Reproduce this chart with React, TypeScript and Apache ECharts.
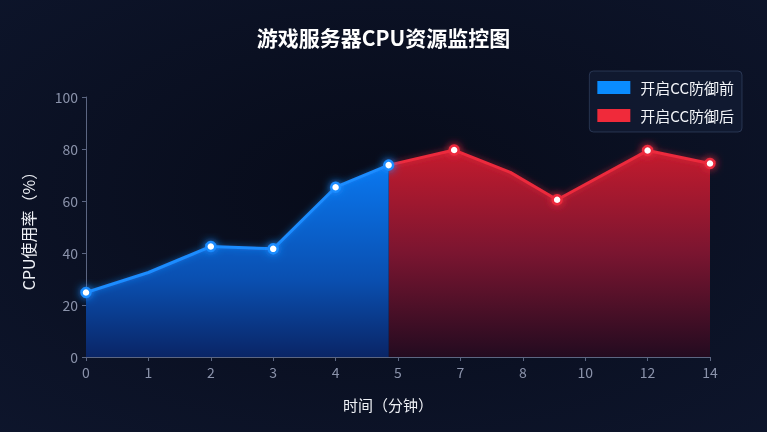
import React, { useEffect, useRef } from "react";
import * as echarts from "echarts";

const timeLabels = ["0", "1", "2", "3", "4", "5", "7", "8", "10", "12", "14"];
const yTickMax = 100;
const yTickStep = 20;

// positions are in category-index units (0..10) of the time axis
const beforeX = [0, 1, 2, 3, 4, 4.85];
const beforeY = [24.8, 32.5, 42.5, 41.6, 65.3, 73.8];
const beforeMarker = [true, false, true, true, true, true];

const afterX = [4.85, 5.9, 6.8, 7.55, 9, 10];
const afterY = [73.8, 79.6, 71, 60.5, 79.4, 74.4];
const afterMarker = [false, true, false, true, true, true];

const seriesNames = ["开启CC防御前", "开启CC防御后"];
const titleText = "游戏服务器CPU资源监控图";

const FONT = "'Noto Sans CJK SC', 'Noto Sans', sans-serif";

function buildData(xs: number[], ys: number[], marks: boolean[]) {
  return xs.map((x, i) => ({
    value: [x, ys[i]],
    symbol: marks[i] ? "circle" : "none",
  }));
}

export default function App() {
  const ref = useRef<HTMLDivElement>(null);
  useEffect(() => {
    document.body.style.margin = "0";
    const chart = echarts.init(ref.current!, undefined, { renderer: "svg" });
    const blue = "#1a8cff";
    const red = "#ec2a3c";
    chart.setOption({
      animation: false,
      backgroundColor: new echarts.graphic.RadialGradient(0.5, 0.45, 0.8, [
        { offset: 0, color: "#070b19" },
        { offset: 1, color: "#0e162d" },
      ]),
      title: {
        text: titleText,
        left: "center",
        top: 21,
        textStyle: { color: "#ffffff", fontSize: 21, fontWeight: "bold", fontFamily: FONT },
      },
      legend: {
        right: 25,
        top: 71,
        orient: "vertical",
        icon: "rect",
        itemWidth: 33,
        itemHeight: 13,
        itemGap: 13,
        padding: [9, 8],
        backgroundColor: "rgba(18,28,52,0.7)",
        borderColor: "rgba(80,100,140,0.4)",
        borderWidth: 1,
        borderRadius: 4,
        textStyle: { color: "#f2f4f8", fontSize: 15, fontFamily: FONT, padding: [0, 0, 0, 5] },
        data: [
          { name: seriesNames[0], itemStyle: { color: "#0a8cff", borderWidth: 0 } },
          { name: seriesNames[1], itemStyle: { color: "#f02a3a", borderWidth: 0 } },
        ],
      },
      grid: { left: 86, right: 57, top: 97, bottom: 75 },
      xAxis: [
        {
          type: "category",
          data: timeLabels,
          boundaryGap: false,
          name: "时间（分钟）",
          nameLocation: "middle",
          nameGap: 40,
          nameTextStyle: { color: "#eef0f5", fontSize: 15, fontFamily: FONT, padding: [0, 20, 0, 0] },
          axisLine: { lineStyle: { color: "#5c6682", width: 1 } },
          axisTick: { show: true, length: 4, lineStyle: { color: "#5c6682" } },
          axisLabel: { color: "#8b93ab", fontSize: 14, margin: 8, fontFamily: FONT },
          splitLine: { show: false },
        },
        { type: "value", min: 0, max: timeLabels.length - 1, show: false },
      ],
      yAxis: {
        type: "value",
        min: 0,
        max: yTickMax,
        interval: yTickStep,
        name: "CPU使用率（%）",
        nameLocation: "middle",
        nameGap: 50,
        nameTextStyle: { color: "#eef0f5", fontSize: 16, fontFamily: FONT },
        axisLine: { show: true, lineStyle: { color: "#5c6682", width: 1 } },
        axisTick: { show: true, length: 4, lineStyle: { color: "#5c6682" } },
        axisLabel: { color: "#8b93ab", fontSize: 14, margin: 8, fontFamily: FONT },
        splitLine: { show: false },
      },
      series: [
        {
          name: seriesNames[1],
          type: "line",
          xAxisIndex: 1,
          z: 2,
          data: buildData(afterX, afterY, afterMarker),
          symbolSize: 9,
          itemStyle: { color: "#ffffff", borderColor: red, borderWidth: 2.5, shadowBlur: 8, shadowColor: red },
          lineStyle: { color: red, width: 3, shadowBlur: 6, shadowColor: "rgba(236,42,60,0.6)" },
          areaStyle: {
            color: new echarts.graphic.LinearGradient(0, 0, 0, 1, [
              { offset: 0, color: "#c41b2e" },
              { offset: 0.5, color: "#7a1530" },
              { offset: 1, color: "#230b20" },
            ]),
            opacity: 1,
          },
          emphasis: { disabled: true },
        },
        {
          name: seriesNames[0],
          type: "line",
          xAxisIndex: 1,
          z: 3,
          data: buildData(beforeX, beforeY, beforeMarker),
          symbolSize: 9,
          itemStyle: { color: "#ffffff", borderColor: blue, borderWidth: 2.5, shadowBlur: 8, shadowColor: blue },
          lineStyle: { color: blue, width: 3, shadowBlur: 6, shadowColor: "rgba(26,140,255,0.6)" },
          areaStyle: {
            color: new echarts.graphic.LinearGradient(0, 0, 0, 1, [
              { offset: 0, color: "#0a78f0" },
              { offset: 0.6, color: "#0a4fb0" },
              { offset: 1, color: "#0a2566" },
            ]),
            opacity: 1,
          },
          emphasis: { disabled: true },
        },
      ],
    });
    return () => chart.dispose();
  }, []);
  return <div ref={ref} style={{ position: "fixed", left: 0, top: 0, width: 767, height: 432 }} />;
}
